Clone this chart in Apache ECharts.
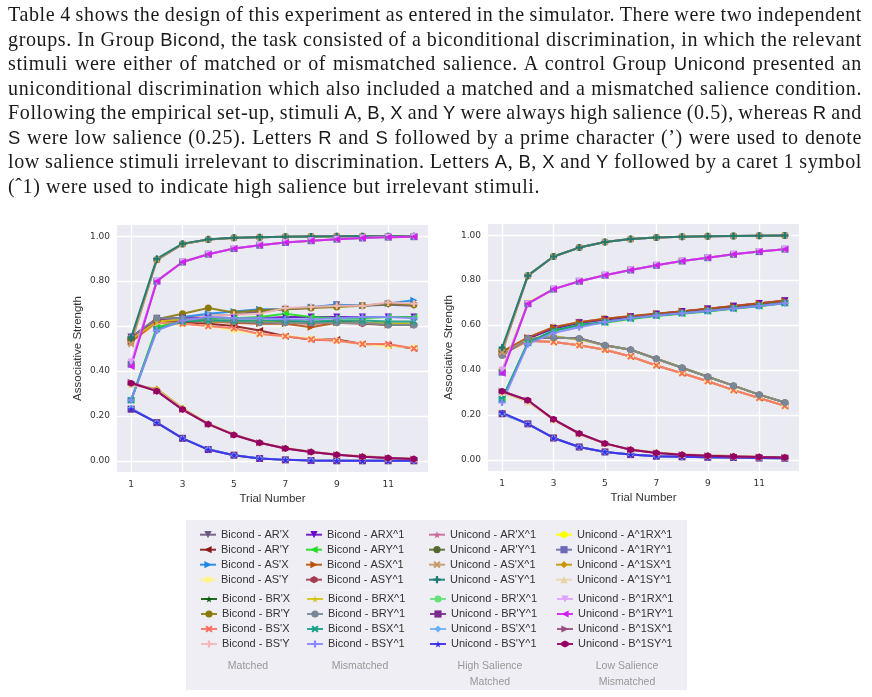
<!DOCTYPE html>
<html>
<head>
<meta charset="utf-8">
<script src="https://cdn.jsdelivr.net/npm/echarts@6/dist/echarts.min.js"></script>
<style>
  html, body { margin: 0; padding: 0; background: #fff; }
  #chart { position: absolute; left: 0; top: 0; width: 872px; height: 697px; }
  #para { position: absolute; left: 8px; top: 2px; width: 854px; z-index: 2;
          font-family: "Liberation Serif", serif; font-size: 18px; line-height: 24.5px; color: #1a1a1a; }
  #para div { white-space: nowrap; height: 24.5px; }
  .sf { font-family: "Liberation Sans", sans-serif; font-size: 0.92em; }
</style>
</head>
<body>
<div id="para">
  <div><span>Table 4 shows the design of this experiment as entered in the simulator. There were two independent</span></div>
  <div><span>groups. In Group <span class="sf">Bicond</span>, the task consisted of a biconditional discrimination, in which the relevant</span></div>
  <div><span>stimuli were either of matched or of mismatched salience. A control Group <span class="sf">Unicond</span> presented an</span></div>
  <div><span>uniconditional discrimination which also included a matched and a mismatched salience condition.</span></div>
  <div><span>Following the empirical set-up, stimuli <span class="sf">A</span>, <span class="sf">B</span>, <span class="sf">X</span> and <span class="sf">Y</span> were always high salience (0.5), whereas <span class="sf">R</span> and</span></div>
  <div><span><span class="sf">S</span> were low salience (0.25). Letters <span class="sf">R</span> and <span class="sf">S</span> followed by a prime character (’) were used to denote</span></div>
  <div><span>low salience stimuli irrelevant to discrimination. Letters <span class="sf">A</span>, <span class="sf">B</span>, <span class="sf">X</span> and <span class="sf">Y</span> followed by a caret 1 symbol</span></div>
  <div class="last"><span>(ˆ1) were used to indicate high salience but irrelevant stimuli.</span></div>
</div>
<div id="chart"></div>
<script>
// size and stretch the paragraph lines like the typeset original
(function () {
  var lines = document.querySelectorAll('#para > div > span');
  var full = 854;
  var para = document.getElementById('para');
  var w4 = lines[3].getBoundingClientRect().width;
  para.style.fontSize = (18 * full / w4 * 0.93).toFixed(2) + 'px';
  w4 = lines[3].getBoundingClientRect().width;
  para.style.letterSpacing = ((full - w4) / lines[3].textContent.length * 0.97).toFixed(3) + 'px';
  for (var i = 0; i < lines.length - 1; i++) {
    var w = lines[i].getBoundingClientRect().width;
    var spaces = (lines[i].textContent.match(/ /g) || []).length;
    if (spaces) lines[i].parentNode.style.wordSpacing = ((full - w) / spaces).toFixed(3) + 'px';
  }
})();

var trials = [1, 2, 3, 4, 5, 6, 7, 8, 9, 10, 11, 12];
var xTicks = [1, 3, 5, 7, 9, 11];
var yTicks = [0, 0.2, 0.4, 0.6, 0.8, 1.0];

var seriesNames = [
  "Bicond - AR'X", "Bicond - AR'Y", "Bicond - AS'X", "Bicond - AS'Y",
  "Bicond - BR'X", "Bicond - BR'Y", "Bicond - BS'X", "Bicond - BS'Y",
  "Bicond - ARX^1", "Bicond - ARY^1", "Bicond - ASX^1", "Bicond - ASY^1",
  "Bicond - BRX^1", "Bicond - BRY^1", "Bicond - BSX^1", "Bicond - BSY^1",
  "Unicond - AR'X^1", "Unicond - AR'Y^1", "Unicond - AS'X^1", "Unicond - AS'Y^1",
  "Unicond - BR'X^1", "Unicond - BR'Y^1", "Unicond - BS'X^1", "Unicond - BS'Y^1",
  "Unicond - A^1RX^1", "Unicond - A^1RY^1", "Unicond - A^1SX^1", "Unicond - A^1SY^1",
  "Unicond - B^1RX^1", "Unicond - B^1RY^1", "Unicond - B^1SX^1", "Unicond - B^1SY^1"
];

var groupLabels = ["Matched", "Mismatched", "High Salience\nMatched", "Low Salience\nMismatched"];

// left panel, same order as seriesNames
var leftValues = [
  [0.55, 0.635, 0.635, 0.645, 0.65, 0.665, 0.675, 0.68, 0.695, 0.69, 0.695, 0.69],
  [0.55, 0.62, 0.615, 0.61, 0.60, 0.58, 0.555, 0.54, 0.54, 0.52, 0.515, 0.50],
  [0.27, 0.59, 0.64, 0.655, 0.665, 0.675, 0.675, 0.685, 0.695, 0.69, 0.70, 0.715],
  [0.53, 0.61, 0.61, 0.60, 0.58, 0.565, 0.555, 0.545, 0.535, 0.52, 0.51, 0.505],
  [0.55, 0.63, 0.63, 0.625, 0.62, 0.62, 0.62, 0.615, 0.62, 0.615, 0.61, 0.61],
  [0.55, 0.63, 0.655, 0.68, 0.66, 0.67, 0.675, 0.68, 0.685, 0.69, 0.70, 0.695],
  [0.53, 0.615, 0.61, 0.60, 0.59, 0.565, 0.555, 0.54, 0.535, 0.52, 0.52, 0.50],
  [0.53, 0.615, 0.63, 0.645, 0.65, 0.655, 0.68, 0.685, 0.69, 0.69, 0.705, 0.70],
  [0.55, 0.63, 0.635, 0.635, 0.635, 0.635, 0.64, 0.64, 0.64, 0.64, 0.64, 0.64],
  [0.27, 0.595, 0.62, 0.635, 0.635, 0.64, 0.655, 0.64, 0.635, 0.635, 0.64, 0.64],
  [0.53, 0.62, 0.625, 0.62, 0.615, 0.61, 0.61, 0.595, 0.615, 0.615, 0.605, 0.605],
  [0.54, 0.625, 0.625, 0.62, 0.62, 0.615, 0.615, 0.61, 0.615, 0.61, 0.605, 0.605],
  [0.54, 0.62, 0.63, 0.62, 0.62, 0.62, 0.615, 0.615, 0.615, 0.615, 0.61, 0.61],
  [0.55, 0.635, 0.635, 0.625, 0.62, 0.615, 0.615, 0.615, 0.615, 0.615, 0.605, 0.605],
  [0.27, 0.585, 0.62, 0.625, 0.625, 0.625, 0.625, 0.62, 0.625, 0.625, 0.62, 0.62],
  [0.27, 0.58, 0.625, 0.64, 0.635, 0.635, 0.63, 0.63, 0.635, 0.64, 0.64, 0.635],
  [0.53, 0.895, 0.965, 0.985, 0.992, 0.996, 0.998, 0.999, 1.0, 1.0, 1.0, 1.0],
  [0.54, 0.895, 0.965, 0.985, 0.993, 0.996, 0.998, 0.999, 1.0, 1.0, 1.0, 1.0],
  [0.52, 0.895, 0.965, 0.985, 0.992, 0.996, 0.998, 0.999, 1.0, 1.0, 1.0, 1.0],
  [0.55, 0.90, 0.967, 0.986, 0.993, 0.996, 0.998, 0.999, 1.0, 1.0, 1.0, 1.0],
  [0.23, 0.17, 0.10, 0.05, 0.025, 0.01, 0.004, 0.001, 0.0, 0.0, 0.0, 0.0],
  [0.23, 0.17, 0.10, 0.05, 0.025, 0.01, 0.004, 0.001, 0.0, 0.0, 0.0, 0.0],
  [0.235, 0.17, 0.10, 0.052, 0.025, 0.011, 0.005, 0.002, 0.001, 0.0, 0.0, 0.0],
  [0.23, 0.17, 0.10, 0.05, 0.025, 0.01, 0.004, 0.001, 0.0, 0.0, 0.0, 0.0],
  [0.43, 0.80, 0.885, 0.92, 0.945, 0.96, 0.972, 0.98, 0.987, 0.992, 0.996, 0.998],
  [0.43, 0.80, 0.885, 0.92, 0.945, 0.96, 0.972, 0.98, 0.987, 0.992, 0.996, 0.998],
  [0.34, 0.32, 0.235, 0.165, 0.117, 0.08, 0.057, 0.04, 0.028, 0.02, 0.013, 0.009],
  [0.34, 0.315, 0.232, 0.165, 0.117, 0.08, 0.057, 0.04, 0.028, 0.02, 0.013, 0.009],
  [0.44, 0.80, 0.885, 0.92, 0.945, 0.96, 0.972, 0.98, 0.987, 0.992, 0.996, 0.998],
  [0.42, 0.80, 0.885, 0.92, 0.945, 0.96, 0.972, 0.98, 0.987, 0.992, 0.996, 0.998],
  [0.35, 0.31, 0.228, 0.163, 0.115, 0.08, 0.055, 0.039, 0.027, 0.018, 0.012, 0.008],
  [0.345, 0.31, 0.228, 0.163, 0.115, 0.08, 0.055, 0.039, 0.027, 0.018, 0.012, 0.008]
];

// right panel
var rightValues = [
  [0.47, 0.54, 0.585, 0.61, 0.625, 0.637, 0.648, 0.66, 0.672, 0.684, 0.696, 0.708],
  [0.47, 0.53, 0.525, 0.51, 0.49, 0.46, 0.42, 0.385, 0.35, 0.31, 0.275, 0.24],
  [0.27, 0.52, 0.575, 0.60, 0.613, 0.63, 0.642, 0.652, 0.663, 0.675, 0.686, 0.698],
  [0.47, 0.53, 0.525, 0.51, 0.49, 0.46, 0.42, 0.385, 0.35, 0.31, 0.275, 0.24],
  [0.465, 0.54, 0.545, 0.54, 0.51, 0.49, 0.45, 0.41, 0.37, 0.33, 0.29, 0.255],
  [0.48, 0.54, 0.59, 0.612, 0.628, 0.638, 0.65, 0.66, 0.672, 0.684, 0.696, 0.708],
  [0.47, 0.53, 0.525, 0.51, 0.49, 0.46, 0.42, 0.385, 0.35, 0.31, 0.275, 0.24],
  [0.47, 0.545, 0.59, 0.612, 0.627, 0.638, 0.648, 0.66, 0.672, 0.685, 0.698, 0.71],
  [0.47, 0.54, 0.585, 0.61, 0.625, 0.637, 0.648, 0.66, 0.672, 0.684, 0.696, 0.708],
  [0.27, 0.52, 0.575, 0.60, 0.61, 0.627, 0.64, 0.65, 0.66, 0.672, 0.684, 0.697],
  [0.48, 0.545, 0.59, 0.612, 0.628, 0.64, 0.65, 0.662, 0.673, 0.685, 0.697, 0.708],
  [0.465, 0.54, 0.545, 0.54, 0.51, 0.49, 0.45, 0.41, 0.37, 0.33, 0.29, 0.255],
  [0.47, 0.54, 0.55, 0.535, 0.51, 0.49, 0.45, 0.41, 0.37, 0.33, 0.29, 0.255],
  [0.465, 0.54, 0.545, 0.54, 0.51, 0.49, 0.45, 0.41, 0.37, 0.33, 0.29, 0.255],
  [0.27, 0.52, 0.575, 0.60, 0.613, 0.63, 0.642, 0.652, 0.663, 0.675, 0.686, 0.698],
  [0.255, 0.515, 0.565, 0.59, 0.613, 0.63, 0.642, 0.652, 0.663, 0.674, 0.685, 0.697],
  [0.48, 0.82, 0.905, 0.945, 0.97, 0.983, 0.99, 0.993, 0.995, 0.997, 0.998, 0.999],
  [0.49, 0.82, 0.905, 0.945, 0.97, 0.983, 0.99, 0.993, 0.995, 0.997, 0.998, 0.999],
  [0.48, 0.82, 0.905, 0.945, 0.97, 0.983, 0.99, 0.993, 0.995, 0.997, 0.998, 0.999],
  [0.50, 0.82, 0.905, 0.945, 0.97, 0.983, 0.99, 0.993, 0.995, 0.997, 0.998, 0.999],
  [0.205, 0.16, 0.097, 0.057, 0.035, 0.023, 0.016, 0.013, 0.011, 0.01, 0.008, 0.007],
  [0.205, 0.16, 0.097, 0.057, 0.035, 0.023, 0.016, 0.013, 0.011, 0.01, 0.008, 0.007],
  [0.205, 0.16, 0.097, 0.057, 0.035, 0.023, 0.016, 0.013, 0.011, 0.01, 0.008, 0.007],
  [0.21, 0.16, 0.097, 0.057, 0.035, 0.023, 0.016, 0.013, 0.011, 0.01, 0.008, 0.007],
  [0.40, 0.70, 0.76, 0.795, 0.822, 0.845, 0.866, 0.885, 0.90, 0.915, 0.927, 0.938],
  [0.39, 0.695, 0.76, 0.795, 0.822, 0.845, 0.866, 0.885, 0.90, 0.915, 0.927, 0.938],
  [0.30, 0.26, 0.178, 0.115, 0.072, 0.046, 0.032, 0.024, 0.02, 0.017, 0.014, 0.012],
  [0.30, 0.258, 0.178, 0.115, 0.072, 0.046, 0.032, 0.024, 0.02, 0.017, 0.014, 0.012],
  [0.40, 0.695, 0.76, 0.795, 0.822, 0.845, 0.866, 0.885, 0.90, 0.915, 0.927, 0.938],
  [0.385, 0.695, 0.76, 0.795, 0.822, 0.845, 0.866, 0.885, 0.90, 0.915, 0.927, 0.938],
  [0.305, 0.265, 0.18, 0.117, 0.073, 0.045, 0.03, 0.022, 0.018, 0.015, 0.012, 0.01],
  [0.305, 0.265, 0.18, 0.117, 0.073, 0.045, 0.03, 0.022, 0.018, 0.015, 0.012, 0.01]
];

var colors = [
  '#6e5a80', '#8b1a1a', '#1e88e5', '#fff38a', '#0a5c0a', '#8b7a0b', '#fa7060', '#f4b6b6',
  '#6a0dc8', '#22dd22', '#b8520a', '#a33a50', '#d4c414', '#778899', '#16a085', '#8888ff',
  '#cc6699', '#556b2f', '#c49a6c', '#1d7a72', '#66e07a', '#7b2a8f', '#6ab0f5', '#3a2af0',
  '#ffff00', '#6a6ab8', '#c8960a', '#e8d4a8', '#e0a0ff', '#d020f0', '#9a4a80', '#960060'
];

var STAR = 'path://M50,0 L61,35 L98,35 L68,57 L79,91 L50,70 L21,91 L32,57 L2,35 L39,35 Z';
var HEX = 'path://M50,0 L93,25 L93,75 L50,100 L7,75 L7,25 Z';
var XMARK = 'path://M20,0 L50,30 L80,0 L100,20 L70,50 L100,80 L80,100 L50,70 L20,100 L0,80 L30,50 L0,20 Z';
var PLUS = 'path://M35,0 H65 V35 H100 V65 H65 V100 H35 V65 H0 V35 H35 Z';

// [symbol, rotate]
var markers = [
  ['triangle', 180], ['triangle', 90], ['triangle', -90], [HEX, 0], [STAR, 0], ['circle', 0], [XMARK, 0], [PLUS, 0],
  ['triangle', 180], ['triangle', 90], ['triangle', -90], [HEX, 0], [STAR, 0], ['circle', 0], [XMARK, 0], [PLUS, 0],
  [STAR, 0], ['circle', 0], [XMARK, 0], [PLUS, 0], ['circle', 0], ['rect', 0], ['diamond', 0], [STAR, 0],
  [HEX, 0], ['rect', 0], ['diamond', 0], ['triangle', 0], ['triangle', 180], ['triangle', 90], ['triangle', -90], [HEX, 0]
];

var FONT = '"Liberation Sans", Arial, sans-serif';
var TICKFONT = '"DejaVu Sans", sans-serif';

function makeSeries(values, idx) {
  return seriesNames.map(function (name, i) {
    return {
      name: name,
      type: 'line',
      xAxisIndex: idx,
      yAxisIndex: idx,
      data: trials.map(function (t, k) { return [t, values[i][k]]; }),
      symbol: markers[i][0],
      symbolRotate: markers[i][1],
      symbolSize: 7,
      itemStyle: { color: colors[i] },
      lineStyle: { width: 2, color: colors[i], opacity: 0.9 },
      emphasis: { disabled: true },
      animation: false
    };
  });
}

function xAxisCfg(idx) {
  return {
    type: 'value', gridIndex: idx, min: 0.45, max: 12.55,
    name: 'Trial Number', nameLocation: 'middle', nameGap: 21,
    nameTextStyle: { fontFamily: FONT, fontSize: 11.5, color: '#333' },
    axisLine: { show: false },
    axisTick: { show: false, customValues: xTicks },
    axisLabel: { customValues: xTicks, fontFamily: TICKFONT, fontSize: 9, color: '#333', margin: 8 },
    splitLine: { show: true, lineStyle: { color: '#fff', width: 1.3 } }
  };
}

function yAxisCfg(idx) {
  return {
    type: 'value', gridIndex: idx, min: -0.05, max: 1.05,
    name: 'Associative Strength', nameLocation: 'middle', nameGap: 33,
    nameTextStyle: { fontFamily: FONT, fontSize: 11.5, color: '#333' },
    axisLine: { show: false },
    axisTick: { show: false, customValues: yTicks },
    axisLabel: {
      customValues: yTicks, fontFamily: TICKFONT, fontSize: 9, color: '#333', margin: 7,
      formatter: function (v) { return v.toFixed(2); }
    },
    splitLine: { show: true, lineStyle: { color: '#fff', width: 1.3 } }
  };
}

// legend blocks: 4 columns x 2 blocks of 4 rows
var legendCols = [199, 305, 428, 555];
var legendRows = [529.2, 593.5];
var legends = [];
for (var c = 0; c < 4; c++) {
  for (var b = 0; b < 2; b++) {
    legends.push({
      left: legendCols[c] + (b === 1 ? 1 : 0), top: legendRows[b],
      orient: 'vertical', padding: 0,
      itemWidth: 16, itemHeight: 9, itemGap: 4,
      selectedMode: false,
      data: seriesNames.slice(c * 8 + b * 4, c * 8 + b * 4 + 4),
      textStyle: { fontFamily: FONT, fontSize: 11, color: '#333' }
    });
  }
}

var labelX = [248, 360, 490, 627];
var graphics = [
  { type: 'rect', z: -10, shape: { x: 186, y: 520, width: 501, height: 170 }, style: { fill: '#EEEEF4' } },
  { type: 'line', shape: { x1: 301, y1: 590, x2: 406, y2: 590 }, style: { stroke: '#F8F8FB', lineWidth: 1 } }
];
groupLabels.forEach(function (txt, i) {
  graphics.push({
    type: 'text', x: labelX[i], y: 658,
    style: { text: txt, fill: '#999', font: '10.5px ' + FONT, textAlign: 'center', lineHeight: 16 }
  });
});

var chart = echarts.init(document.getElementById('chart'));
chart.setOption({
  backgroundColor: '#fff',
  animation: false,
  grid: [
    { left: 117, top: 225, width: 311, height: 247, show: true, backgroundColor: '#EAEAF2', borderWidth: 0 },
    { left: 488, top: 224, width: 311, height: 247, show: true, backgroundColor: '#EAEAF2', borderWidth: 0 }
  ],
  xAxis: [xAxisCfg(0), xAxisCfg(1)],
  yAxis: [yAxisCfg(0), yAxisCfg(1)],
  legend: legends,
  graphic: graphics,
  series: makeSeries(leftValues, 0).concat(makeSeries(rightValues, 1))
});
</script>
</body>
</html>
